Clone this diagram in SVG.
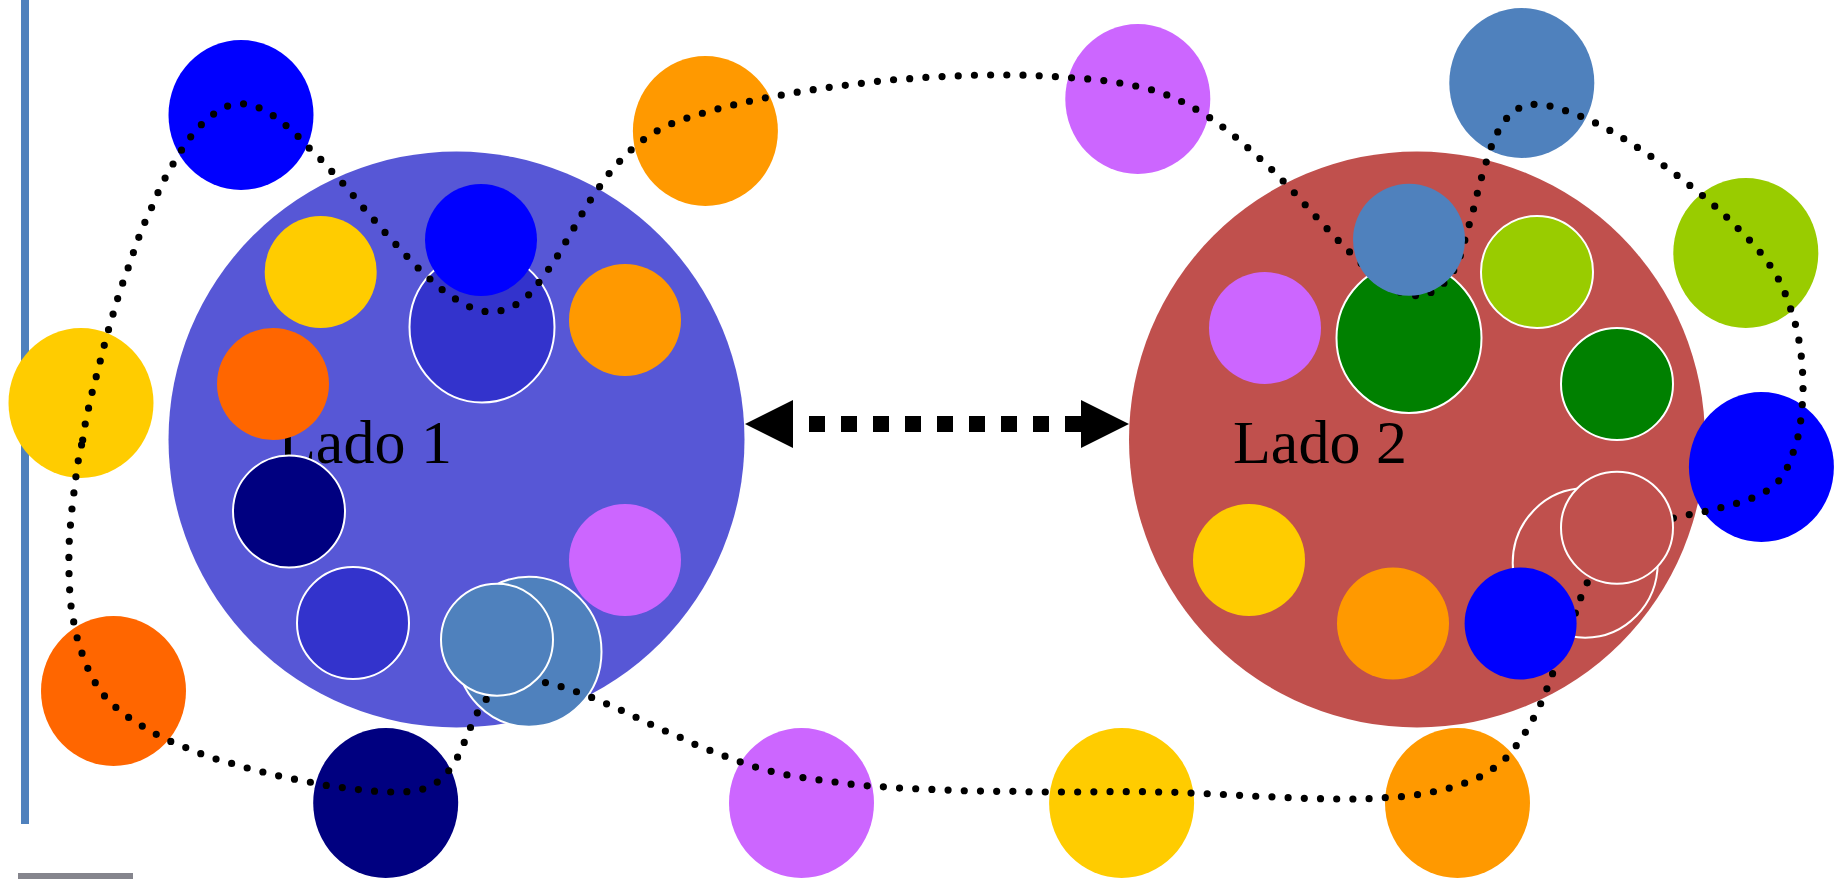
<svg xmlns="http://www.w3.org/2000/svg" width="1841" height="879" viewBox="0 0 1841 879">
<style>
.out{stroke:none}
.in{stroke:none}
.wo{stroke:#FFFFFF;stroke-width:2}
.lbl{font-family:"Liberation Serif","Times New Roman",serif;font-size:62px;fill:#000000}
.dots{fill:none;stroke:#000000;stroke-width:7.2;stroke-linecap:round;stroke-linejoin:round;stroke-dasharray:0 16.2}
.dash{fill:none;stroke:#000000;stroke-width:16;stroke-dasharray:16 16;stroke-dashoffset:16}
</style>
<defs>
<marker id="ah" viewBox="0 0 3 3" refX="0" refY="1.5" markerWidth="3" markerHeight="3" orient="auto-start-reverse" markerUnits="strokeWidth">
<path d="M0,0 L3,1.5 L0,3 Z" fill="#000000"/>
</marker>
</defs>
<g id="frame">
<rect x="21" y="0" width="8" height="824" fill="#4F81BD"/>
<rect x="18" y="873" width="115" height="6" fill="#85858D"/>
</g>
<g id="lado1">
<circle cx="456.5" cy="439.5" r="288" fill="#5757D6"/>
<text class="lbl" x="278" y="463">Lado 1</text>
</g>
<g id="lado2">
<circle cx="1417" cy="439.5" r="288" fill="#C0504D"/>
<text class="lbl" x="1233" y="463">Lado 2</text>
</g>
<g id="inner-left">
<circle id="l-yellow" class="in" cx="320.7" cy="272" r="56" fill="#FFCC00"/>
<circle id="l-orangered" class="in" cx="273" cy="384" r="56" fill="#FF6600"/>
<circle id="l-orange" class="in" cx="625" cy="320" r="56" fill="#FF9900"/>
<circle id="l-navy" class="wo" cx="289" cy="511.5" r="56" fill="#000080"/>
<circle id="l-indigo" class="wo" cx="353" cy="623" r="56" fill="#3333CC"/>
<circle id="l-violet" class="in" cx="625" cy="560" r="56" fill="#CC66FF"/>
</g>
<g id="inner-right">
<circle id="r-violet" class="in" cx="1265" cy="328" r="56" fill="#CC66FF"/>
<circle id="r-lime" class="wo" cx="1537" cy="272" r="56" fill="#99CC00"/>
<circle id="r-green" class="wo" cx="1617" cy="384" r="56" fill="#008000"/>
<circle id="r-yellow" class="in" cx="1249" cy="560" r="56" fill="#FFCC00"/>
<circle id="r-orange" class="in" cx="1393" cy="623.5" r="56" fill="#FF9900"/>
</g>
<g id="outer">
<ellipse id="o-blue1" class="out" cx="241" cy="115" rx="72.5" ry="75" fill="#0000FF"/>
<ellipse id="o-orange1" class="out" cx="705.4" cy="131" rx="72.5" ry="75" fill="#FF9900"/>
<ellipse id="o-violet1" class="out" cx="1137.8" cy="99" rx="72.5" ry="75" fill="#CC66FF"/>
<ellipse id="o-steel" class="out" cx="1521.8" cy="83" rx="72.5" ry="75" fill="#4F81BD"/>
<ellipse id="o-lime" class="out" cx="1745.8" cy="253" rx="72.5" ry="75" fill="#99CC00"/>
<ellipse id="o-blue2" class="out" cx="1761.4" cy="467" rx="72.5" ry="75" fill="#0000FF"/>
<ellipse id="o-orange2" class="out" cx="1457.5" cy="803" rx="72.5" ry="75" fill="#FF9900"/>
<ellipse id="o-yellow2" class="out" cx="1121.6" cy="803" rx="72.5" ry="75" fill="#FFCC00"/>
<ellipse id="o-violet2" class="out" cx="801.5" cy="803" rx="72.5" ry="75" fill="#CC66FF"/>
<ellipse id="o-navy" class="out" cx="385.7" cy="803" rx="72.5" ry="75" fill="#000080"/>
<ellipse id="o-orangered" class="out" cx="113.5" cy="691" rx="72.5" ry="75" fill="#FF6600"/>
<ellipse id="o-yellow1" class="out" cx="81" cy="403" rx="72.5" ry="75" fill="#FFCC00"/>
</g>
<g id="pairs-under">
<ellipse id="l-indigo-big" class="wo" cx="482" cy="327" rx="72.5" ry="75.5" fill="#3333CC"/>
<ellipse id="l-steel-big" class="wo" cx="529" cy="651.7" rx="72.5" ry="75" fill="#4F81BD"/>
<ellipse id="r-green-big" class="wo" cx="1409" cy="338" rx="72.5" ry="75" fill="#008000"/>
<ellipse id="r-ring-big" class="wo" cx="1585.2" cy="563" rx="72.5" ry="74.7" fill="#C0504D"/>
</g>
<g id="connectors">
<path class="dots" d="M82.7,440 L85.2,424 L88.8,407 L92.3,391.7 L96.4,376 L100.5,360 L104.6,344 L108.7,329 L113.3,313.3 L117.9,297.7 L123,282.3 L128.6,266.7 L133.7,251.7 L139.3,236 L145.4,221 L152,206.7 L158.7,191 L165.8,176.7 L174,162.3 L182.7,148.3 L191.8,135.3 L202.6,123.3 L215.3,112.7 L229.6,105 L245.4,103.7 L260.7,108.3 L275,116.7 L287.8,127 L299.5,137.7 L310.7,149.7 L322.4,161 L333.2,173 L344.4,185 L355.1,197.7 L365.3,210 L376,222 L386.7,234.3 L398,246.7 L408.7,258.3 L419.4,269.3 L432.1,281 L444.4,291.7 L458.2,300.7 L472.4,308.3 L488.3,312.3 L504.1,310.3 L518.9,303.3 L531.1,292.7 L540.8,280 L550.5,266.7 L559.2,253.3 L567.3,239.3 L575.5,225.3 L583.7,211 L592.3,197 L602,183.3 L611.2,170.7 L622,158.7 L634.2,147 L646.4,137.3 L660.7,128.7 L675.5,122 L690.8,116.7 L706.6,112 L722,107.7 L737.8,104 L753.6,100.3 L769.5,97 L785.7,94.5 L801.8,91.3 L817.9,89 L833.9,86.7 L850,84.7 L866.5,82.7 L882.6,80.7 L898.7,79.3 L915.2,78.3 L931.3,77 L947.3,76.3 L963.8,75.7 L979.9,75 L996,75 L1012.5,75 L1028.6,75.3 L1045,76 L1061.6,77 L1077.7,78.3 L1093.8,79.3 L1109.8,81.3 L1125.9,84 L1142,87.3 L1157.6,91.3 L1172.8,97.3 L1187.5,104.3 L1201.8,112.7 L1215,121 L1228,131 L1240.7,141.3 L1252.7,152.2 L1265,163 L1276.3,174 L1287.8,185.8 L1299,197.7 L1309.8,210 L1320.7,221.7 L1332,234 L1343.4,245.7 L1354.3,256.7 L1367,269 L1380,280 L1393,289 L1407.2,295 L1422.8,296 L1437.9,289.3 L1450,277 L1458,263 L1463,247 L1467.2,231.3 L1471.9,215.7 L1475.7,200 L1479.5,184.3 L1484.2,168.7 L1488.9,153.3 L1494.6,137.7 L1502.2,123.7 L1512.6,111.3 L1526.7,104.3 L1543.3,104.3 L1558.9,108.3 L1574.9,114 L1589.1,119.7 L1604.3,127.3 L1618.4,135.3 L1632.1,144 L1645.8,152.7 L1659.1,162.3 L1672.3,171.7 L1685,181.7 L1697.8,191.7 L1710.1,202 L1722.9,213.3 L1734.2,224.7 L1745.6,236 L1756.9,248 L1766.8,260.7 L1775.8,274 L1783.4,288.7 L1789,304 L1794.2,319.3 L1798,335 L1800.8,351 L1802.3,367.3 L1803.2,383.3 L1802.7,400 L1801.3,416 L1799.2,432.5 L1795,447 L1789.5,463.3 L1782,477.7 L1770.1,489 L1756,496.7 L1740.4,502.3 L1724.8,506.7 L1708.7,510.7 L1692.2,514 L1676.6,517.3 L1661,521 L1645,526 L1630,533 L1616,542 L1604,553 L1595,566 L1587.7,581.7 L1581.1,596.7 L1575.9,611.7 L1570,627 L1564,643 L1558,658 L1552.7,673.3 L1547.1,688.3 L1540.9,703.3 L1533.8,717.7 L1525.8,731.7 L1516.8,745 L1506.4,757.7 L1493.7,768.3 L1480,776.7 L1465.3,783 L1449.7,788 L1433.6,791.7 L1417.6,794.7 L1401.5,796.7 L1385.4,797.7 L1368.9,798.7 L1352.8,799 L1336.3,799 L1320.2,798.7 L1303.7,798.3 L1287.6,797.7 L1271.3,796.8 L1255,796.2 L1238.9,795.3 L1222.9,794.5 L1206.5,793.7 L1190.3,793 L1174.2,792.3 L1157.7,792 L1141.6,791.7 L1125.5,791.7 L1109,791.7 L1093,791.8 L1076,792 L1059.8,792 L1043.8,792 L1027.7,791.7 L1011.2,791.3 L995,791.3 L979,791 L962.5,790.7 L946.4,790 L929.9,789.3 L913.8,788.7 L897.3,788 L881.3,786.7 L865.2,785.7 L849.1,784 L833,781.7 L817,779.7 L800.9,777.3 L784.4,774.5 L768.6,770.7 L752.9,766.3 L737.9,761 L722.4,755.2 L707.1,749.3 L692.4,743.3 L677.7,736.2 L662.6,729.8 L647.9,723 L633.1,715.8 L618.4,709 L603.6,702.5 L588.3,696 L573.5,690.7 L558.2,685.7 L541.8,681.7 L527,680 L512,683 L497,690 L484.7,700.7 L476,715 L469.4,730 L463.3,744.7 L456.6,759.3 L447.4,772.7 L435.2,784 L420.4,790 L404.6,792 L388.8,792 L372.4,791 L356.1,789.3 L339.8,787.3 L323.5,785 L307.7,781.7 L291.8,778.7 L276,775.3 L260.2,771.3 L244.4,767.3 L229.1,762.7 L213.3,758.3 L198,752.7 L182.7,746.3 L167.3,740 L153.1,732.7 L139.3,724.3 L126,715.7 L113.3,705.3 L102,693.3 L92.9,679 L86.2,665 L80.6,649.3 L76,634 L73,618.3 L70.4,602 L69.4,585.7 L68.9,569.3 L68.9,553.3 L69.4,536.7 L70.9,520.3 L72.4,504.3 L74.5,488.3 L76.5,472 L79,456 Z"/>
<line class="dash" x1="793" y1="424" x2="1081" y2="424" marker-start="url(#ah)" marker-end="url(#ah)"/>
</g>
<g id="pairs-over">
<circle id="l-blue-small" class="in" cx="481" cy="240" r="56" fill="#0000FF"/>
<circle id="l-steel-small" class="wo" cx="497" cy="639.7" r="56" fill="#4F81BD"/>
<circle id="r-steel-small" class="in" cx="1409" cy="239.7" r="56" fill="#4F81BD"/>
<circle id="r-ring-small" class="wo" cx="1617" cy="527.8" r="56" fill="#C0504D"/>
<circle id="r-blue-small" class="in" cx="1520.6" cy="623.5" r="56" fill="#0000FF"/>
</g>
</svg>
